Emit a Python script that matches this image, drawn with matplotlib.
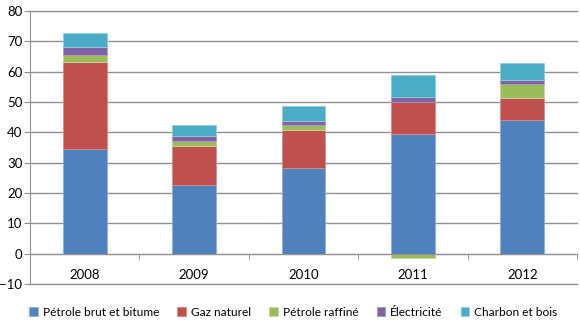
import numpy as np
import matplotlib.pyplot as plt

plt.rcParams['font.family'] = ['Lato', 'DejaVu Sans']

years = ['2008', '2009', '2010', '2011', '2012']
series = ['Pétrole brut et bitume', 'Gaz naturel', 'Pétrole raffiné',
          'Électricité', 'Charbon et bois']
petrole_brut = [34.6, 22.5, 28.3, 39.6, 44.2]
gaz_naturel = [28.7, 13.1, 12.6, 10.5, 7.0]
petrole_raffine = [2.2, 1.4, 1.6, -1.3, 4.7]
electricite = [2.7, 1.7, 1.3, 1.6, 1.5]
charbon_bois = [4.6, 3.8, 5.0, 7.1, 5.4]

colors = ['#4F81BD', '#C0504D', '#9BBB59', '#8064A2', '#4BACC6']
edges = ['#8DB0DC', '#DB8B89', '#C3D99B', '#AC98C6', '#8CCFE0']

fig = plt.figure(figsize=(5.8, 3.3), dpi=100)
ax = fig.add_axes([30 / 580, 1 - 284 / 330, 547 / 580, 273 / 330])

x = np.arange(len(years))
pos_base = np.zeros(len(years))
neg_base = np.zeros(len(years))
data = [petrole_brut, gaz_naturel, petrole_raffine, electricite, charbon_bois]
for vals, lab, c, ec in zip(data, series, colors, edges):
    vals = np.array(vals)
    bottom = np.where(vals >= 0, pos_base, neg_base)
    ax.bar(x, vals, width=0.4, bottom=bottom, color=c, edgecolor=ec,
           linewidth=0.6, label=lab, zorder=3)
    pos_base = pos_base + np.clip(vals, 0, None)
    neg_base = neg_base + np.clip(vals, None, 0)

ax.set_xlim(-0.5, len(years) - 0.5)
ax.set_ylim(-10, 80)
ax.set_yticks(np.arange(-10, 81, 10))
ax.yaxis.grid(True, color='#929292', linewidth=1.0, zorder=0)
ax.set_axisbelow(True)
for gl in ax.yaxis.get_gridlines():
    gl.set_clip_on(False)

for s in ['top', 'right']:
    ax.spines[s].set_visible(False)
ax.spines['left'].set_color('#929292')
ax.spines['bottom'].set_position(('data', 0))
ax.spines['bottom'].set_color('#929292')
ax.spines['bottom'].set_zorder(4)

ax.set_xticks(x)
ax.set_xticklabels(years)
ax.set_xticks(np.arange(-0.5, len(years)), minor=True)
ax.tick_params(axis='x', which='major', length=0, pad=11, labelsize=9.5)
ax.tick_params(axis='x', which='minor', length=4, color='#929292', direction='out')
ax.tick_params(axis='y', length=4, color='#929292', labelsize=9.5, pad=1.5)

fig.legend(loc='center', bbox_to_anchor=(0.506, 1 - 312 / 330), ncol=5,
           frameon=False, fontsize=8.6, handlelength=0.7, handleheight=0.7,
           handletextpad=0.45, columnspacing=1.5)

fig.savefig('out.png', dpi=100)
